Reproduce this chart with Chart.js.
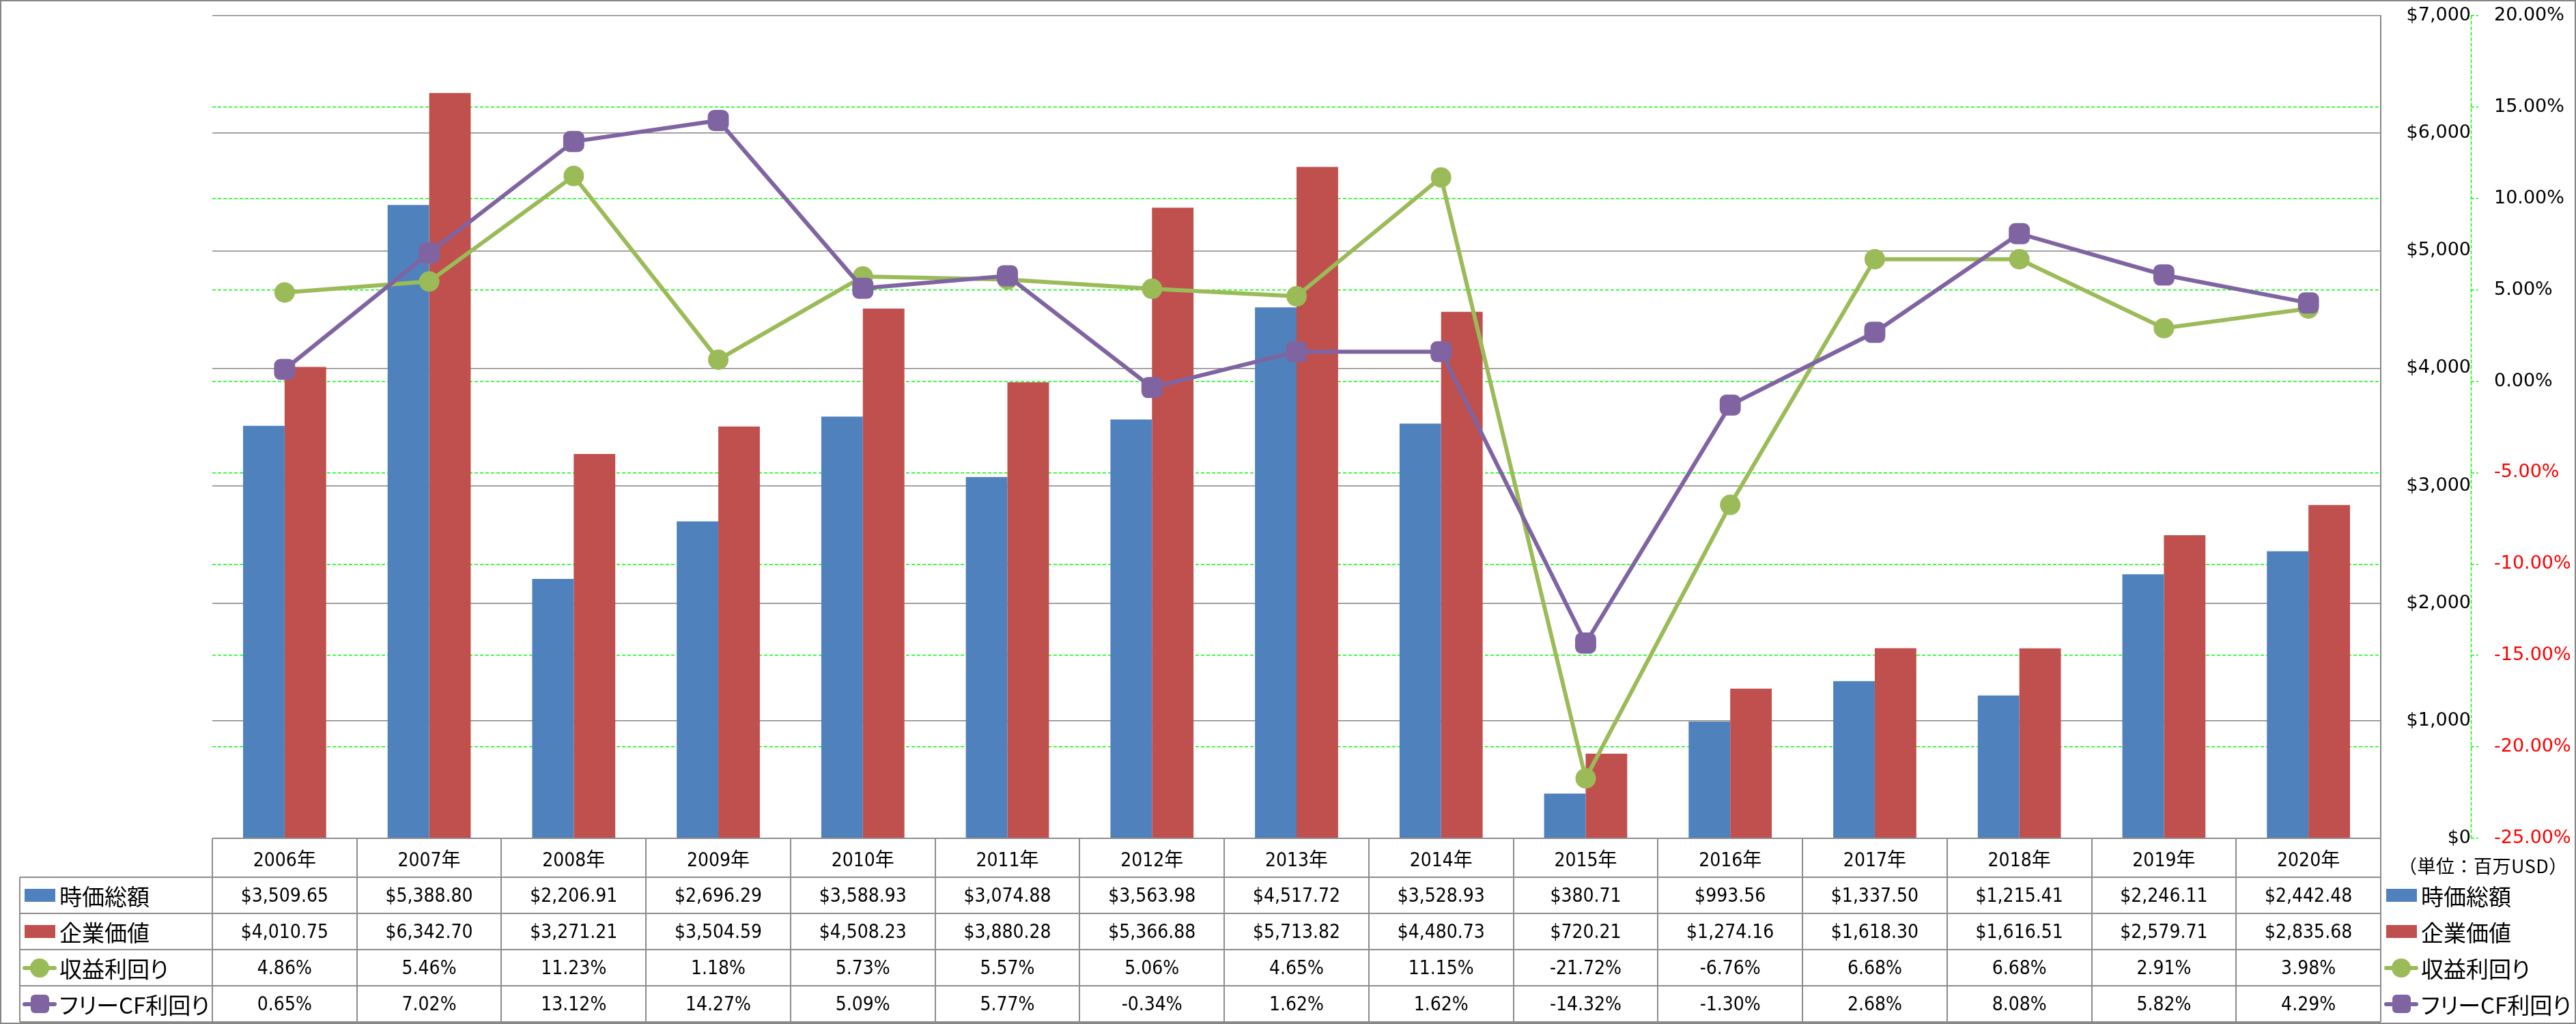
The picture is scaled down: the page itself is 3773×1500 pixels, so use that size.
<!DOCTYPE html>
<html lang="ja">
<head>
<meta charset="utf-8">
<title>時価総額・企業価値・利回り</title>
<script src="https://cdn.jsdelivr.net/npm/chart.js@4.4.1/dist/chart.umd.min.js"></script>
<style>
  html, body { margin: 0; padding: 0; background: #fff; }
  #wrap { position: relative; width: 3773px; height: 1500px; overflow: hidden; }
  #chart { position: absolute; left: 0; top: 0; }
  #frame { position: absolute; left: 0; top: 0; width: 3773px; height: 1500px; box-sizing: border-box; border: 2px solid #868686; pointer-events: none; }
  .ln { position: absolute; background: #8c8c8c; }
  .cell { position: absolute; display: flex; align-items: center; justify-content: center;
          font-family: "DejaVu Sans Condensed", "DejaVu Sans", "Noto Sans CJK JP", sans-serif;
          font-stretch: condensed; font-size: 28px; color: #000; white-space: nowrap; }
  .key { position: absolute; display: flex; align-items: center; white-space: nowrap;
         font-family: "Noto Sans CJK JP", sans-serif; font-size: 33px; font-feature-settings: "palt"; color: #000; }
  .icon { position: relative; width: 50px; height: 30px; margin: 0 4px; flex: none; }
  .swatch { position: absolute; left: 2.5px; top: 5.5px; width: 45px; height: 19px; }
  .kline { position: absolute; left: 0; top: 12px; width: 50px; height: 6px; border-radius: 3px; }
  .kdot { position: absolute; left: 11px; top: 1px; width: 28px; height: 28px; border-radius: 50%; }
  .ksq { position: absolute; left: 11.5px; top: 1.5px; width: 27px; height: 27px; border-radius: 6px; }
  #unit { position: absolute; left: 3513px; top: 1248px; font-family: "Noto Sans CJK JP", sans-serif; font-size: 27px; letter-spacing: 0.5px; white-space: nowrap; }
</style>
</head>
<body>
<div id="wrap">
  <canvas id="chart" width="3773" height="1500"></canvas>
  <div id="unit">（単位：百万USD）</div>
  <div id="frame"></div>
</div>
<script>
// === Data ===
const years = ["2006年", "2007年", "2008年", "2009年", "2010年", "2011年", "2012年", "2013年",
               "2014年", "2015年", "2016年", "2017年", "2018年", "2019年", "2020年"];
const seriesNames = ["時価総額", "企業価値", "収益利回り", "フリーCF利回り"];
const marketCap = [3509.65, 5388.80, 2206.91, 2696.29, 3588.93, 3074.88, 3563.98, 4517.72,
                   3528.93, 380.71, 993.56, 1337.50, 1215.41, 2246.11, 2442.48];
const enterpriseValue = [4010.75, 6342.70, 3271.21, 3504.59, 4508.23, 3880.28, 5366.88, 5713.82,
                         4480.73, 720.21, 1274.16, 1618.30, 1616.51, 2579.71, 2835.68];
const earningsYield = [4.86, 5.46, 11.23, 1.18, 5.73, 5.57, 5.06, 4.65,
                       11.15, -21.72, -6.76, 6.68, 6.68, 2.91, 3.98];
const fcfYield = [0.65, 7.02, 13.12, 14.27, 5.09, 5.77, -0.34, 1.62,
                  1.62, -14.32, -1.30, 2.68, 8.08, 5.82, 4.29];
const usdAxis = { min: 0, max: 7000, step: 1000 };
const pctAxis = { min: -25, max: 20, step: 5 };

const colors = ["#4F81BD", "#C0504D", "#9BBB59", "#8064A2"];

// === Formatting ===
const fmtUsd = v => "$" + v.toLocaleString("en-US", { minimumFractionDigits: 2, maximumFractionDigits: 2 });
const fmtPct = v => v.toFixed(2) + "%";

// dashed green line for the % axis
const dashedAxisLine = {
  id: "dashedAxisLine",
  afterDraw(chart) {
    const s = chart.scales.y2, ctx = chart.ctx;
    ctx.save();
    ctx.strokeStyle = "#00FF00";
    ctx.lineWidth = 1.5;
    ctx.setLineDash([5, 3]);
    ctx.beginPath();
    ctx.moveTo(s.left + 0.5, s.top);
    ctx.lineTo(s.left + 0.5, s.bottom);
    ctx.stroke();
    ctx.restore();
  }
};

// axis width is fixed; label padding must not push the plot area down
function fitAxis(width) {
  return s => { s.width = width; s.paddingTop = 0; s.paddingBottom = 0; };
}

const chart = new Chart(document.getElementById("chart").getContext("2d"), {
  type: "bar",
  data: {
    labels: years,
    datasets: [
      { type: "line", label: seriesNames[3], data: fcfYield, yAxisID: "y2", order: 0,
        borderColor: colors[3], backgroundColor: colors[3], borderWidth: 6,
        pointStyle: "rectRounded", pointRadius: 18, pointBorderWidth: 0, tension: 0 },
      { type: "line", label: seriesNames[2], data: earningsYield, yAxisID: "y2", order: 1,
        borderColor: colors[2], backgroundColor: colors[2], borderWidth: 6,
        pointStyle: "circle", pointRadius: 15, pointBorderWidth: 0, tension: 0 },
      { label: seriesNames[0], data: marketCap, yAxisID: "y", order: 2,
        backgroundColor: colors[0], categoryPercentage: 0.575, barPercentage: 1.0 },
      { label: seriesNames[1], data: enterpriseValue, yAxisID: "y", order: 2,
        backgroundColor: colors[1], categoryPercentage: 0.575, barPercentage: 1.0 }
    ]
  },
  options: {
    responsive: false,
    animation: false,
    devicePixelRatio: 1,
    layout: { padding: { left: 311, top: 23, right: 0, bottom: 272 } },
    plugins: { legend: { display: false }, tooltip: { enabled: false } },
    scales: {
      x: { display: false, offset: true },
      y: {
        position: "right", weight: 0,
        min: usdAxis.min, max: usdAxis.max,
        ticks: {
          stepSize: usdAxis.step, crossAlign: "far", padding: 33, color: "#000",
          font: { family: "DejaVu Sans", size: 27 },
          callback: v => "$" + v.toLocaleString("en-US")
        },
        grid: { color: "#868686", lineWidth: 1.5, drawTicks: false },
        border: { display: true, color: "#868686", width: 2 },
        afterFit: fitAxis(132)
      },
      y2: {
        position: "right", weight: 1,
        min: pctAxis.min, max: pctAxis.max,
        ticks: {
          stepSize: pctAxis.step, padding: 23,
          font: { family: "DejaVu Sans", size: 27 },
          color: ctx => ctx.tick.value < 0 ? "#FF0000" : "#000",
          callback: v => v.toFixed(2) + "%"
        },
        grid: {
          color: ctx => (ctx.tick && (ctx.tick.value === pctAxis.max || ctx.tick.value === pctAxis.min)) ? "rgba(0,0,0,0)" : "#00FF00",
          lineWidth: 1.5, tickLength: 11, tickColor: "#00FF00", tickWidth: 1.5, tickBorderDash: [5, 3]
        },
        border: { display: false, dash: [5, 3] },
        afterFit: fitAxis(154)
      }
    }
  },
  plugins: [dashedAxisLine]
});

// pin the plot area to where the reference has it
const want = { left: 311, top: 23, bottom: 1228 };
const pad = chart.options.layout.padding;
pad.top = Math.max(0, pad.top + want.top - chart.chartArea.top);
pad.left += want.left - chart.chartArea.left;
pad.bottom += chart.chartArea.bottom - want.bottom;
chart.update();

// === Data table under the chart ===
const wrap = document.getElementById("wrap");
const ca = chart.chartArea;
const xs = chart.scales.x;
const colW = (ca.right - ca.left) / years.length;
const tableLeft = 29;
const headerH = 57, rowH = 53;
const rowTops = [ca.bottom, ca.bottom + headerH];
for (let r = 1; r <= 4; r++) rowTops.push(rowTops[rowTops.length - 1] + rowH);

function el(cls, parent) {
  const d = document.createElement("div");
  d.className = cls;
  (parent || wrap).appendChild(d);
  return d;
}
function hLine(x1, x2, y) {
  const d = el("ln");
  Object.assign(d.style, { left: x1 + "px", top: (y - 1) + "px", width: (x2 - x1) + "px", height: "2px" });
}
function vLine(x, y1, y2) {
  const d = el("ln");
  Object.assign(d.style, { left: (x - 1) + "px", top: y1 + "px", width: "2px", height: (y2 - y1) + "px" });
}
function cell(text, cx, top, h) {
  const d = el("cell");
  Object.assign(d.style, { left: (cx - colW / 2) + "px", top: top + "px", width: colW + "px", height: h + "px" });
  d.textContent = text;
}
function key(i, left, top, h) {
  const row = el("key");
  Object.assign(row.style, { left: left + "px", top: top + "px", height: h + "px" });
  const icon = el("icon", row);
  if (i < 2) {
    el("swatch", icon).style.background = colors[i];
  } else {
    el("kline", icon).style.background = colors[i];
    el(i === 2 ? "kdot" : "ksq", icon).style.background = colors[i];
  }
  const t = document.createElement("span");
  t.textContent = seriesNames[i];
  row.appendChild(t);
}

// grid lines of the table
hLine(ca.left, ca.right, rowTops[0]);
for (let r = 1; r < rowTops.length; r++) hLine(tableLeft, ca.right, rowTops[r]);
vLine(tableLeft, rowTops[1], rowTops[5]);
for (let k = 0; k <= years.length; k++) vLine(ca.left + k * colW, rowTops[0], rowTops[5]);

// header + values
const rowsText = [
  marketCap.map(fmtUsd),
  enterpriseValue.map(fmtUsd),
  earningsYield.map(fmtPct),
  fcfYield.map(fmtPct)
];
years.forEach((y, i) => {
  const cx = xs.getPixelForValue(i);
  cell(y, cx, rowTops[0], headerH);
  rowsText.forEach((vals, r) => cell(vals[i], cx, rowTops[r + 1], rowH));
});

// legend keys inside the table and to its right
seriesNames.forEach((n, i) => {
  key(i, tableLeft, rowTops[i + 1], rowH);
  key(i, ca.right + 1, rowTops[i + 1], rowH);
});
</script>
</body>
</html>
